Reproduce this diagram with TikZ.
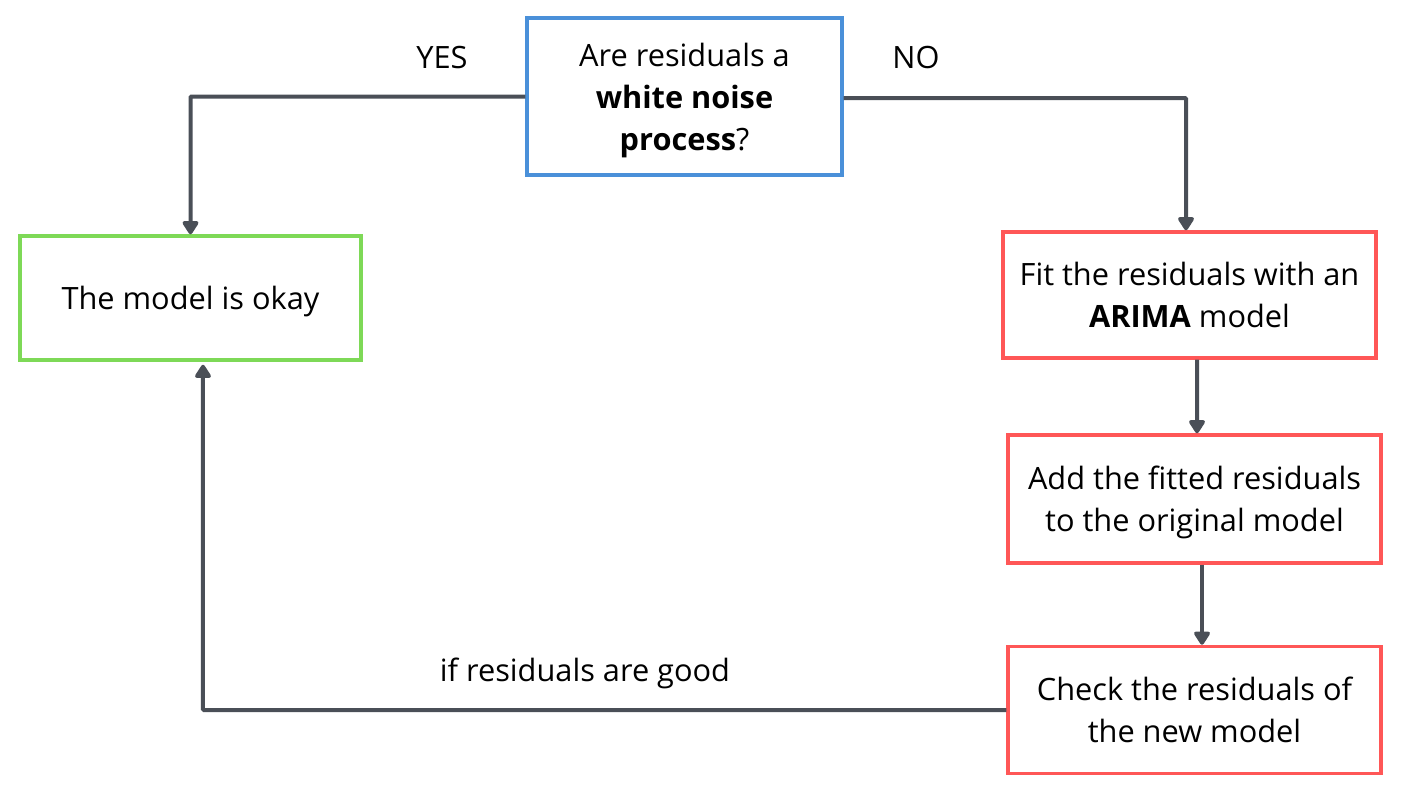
\documentclass[tikz,border=0pt]{standalone}
\usepackage{fontspec}
\setmainfont{Open Sans}
\usepackage{tikz}
\usetikzlibrary{arrows.meta,positioning}

\definecolor{qblue}{HTML}{4A90D9}
\definecolor{okgreen}{HTML}{7ED957}
\definecolor{stepred}{HTML}{FF5757}
\definecolor{linegray}{HTML}{4A4F57}

\begin{document}
\begin{tikzpicture}[x=0.02cm, y=-0.02cm, >={Triangle[width=0.36cm,length=0.3cm,round]},
    box/.style={draw=#1, line width=0.07cm, fill=white, text=black, align=center, inner sep=0pt,
      font=\fontsize{17.5}{24}\selectfont, text depth=-7pt},
    link/.style={->, line width=0.08cm, linegray, rounded corners=0.5pt},
    lbl/.style={font=\fontsize{17.5}{24}\selectfont}]
    \useasboundingbox (0,0) rectangle (1411,808);

    % Boxes
    \node[box=qblue, minimum width=6.3cm, minimum height=3.14cm] (q) at (684.5,96.5)
      {Are residuals a\\ \textbf{white noise}\\ \textbf{process}?};
    \node[box=okgreen, minimum width=6.82cm, minimum height=2.48cm] (ok) at (190.5,298)
      {The model is okay};
    \node[box=stepred, minimum width=7.46cm, minimum height=2.52cm] (fit) at (1189.5,295)
      {Fit the residuals with an\\ \textbf{ARIMA} model};
    \node[box=stepred, minimum width=7.46cm, minimum height=2.56cm] (add) at (1194.5,499)
      {Add the fitted residuals\\ to the original model};
    \node[box=stepred, minimum width=7.46cm, minimum height=2.54cm] (check) at (1194.5,710)
      {Check the residuals of\\ the new model};

    % Labels
    \node[lbl] (yes) at (442,58) {YES};
    \node[lbl] (no) at (916,58) {NO};
    \node[lbl] (good) at (585,673) {if residuals are good};

    % Connectors
    \draw[link] (q.west) -| (ok.north);
    \draw[link] ([yshift=-0.03cm]q.east) -| ([xshift=-0.07cm]fit.north);
    \draw[link] ([xshift=0.15cm]fit.south) -- ([xshift=0.05cm]add.north);
    \draw[link] ([xshift=0.15cm]add.south) -- ([xshift=0.15cm]check.north);
    \draw[link] (check.west) -| ([xshift=0.25cm,yshift=-0.06cm]ok.south);
  \end{tikzpicture}
\end{document}
